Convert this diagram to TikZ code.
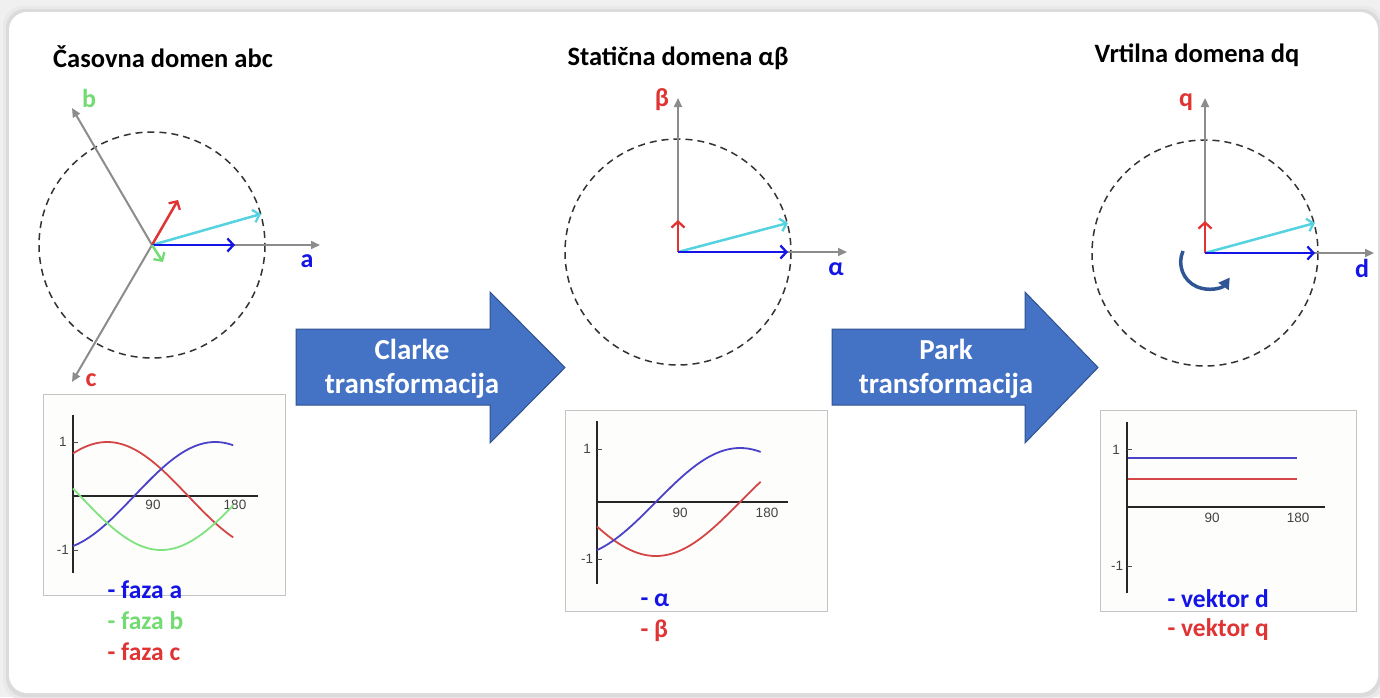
\documentclass[tikz,border=0pt]{standalone}
\usepackage{fontspec}
\setmainfont{Carlito}
\newfontfamily\tickfont{Liberation Sans}
\usetikzlibrary{arrows.meta,calc}
\definecolor{bggray}{HTML}{E6E6E6}
\definecolor{axgray}{HTML}{8C8C8C}
\definecolor{dashgray}{HTML}{333333}
\definecolor{vblue}{HTML}{1414E6}
\definecolor{vred}{HTML}{E03333}
\definecolor{vcyan}{HTML}{55D2E0}
\definecolor{vgreen}{HTML}{72DC72}
\definecolor{cblue}{HTML}{4B42C8}
\definecolor{cred}{HTML}{D44646}
\definecolor{cgreen}{HTML}{7FE37F}
\definecolor{blockblue}{HTML}{4472C4}
\definecolor{blockedge}{HTML}{2F528F}
\definecolor{rotblue}{HTML}{2F5597}
\definecolor{boxedge}{HTML}{C4C4C4}
\definecolor{boxfill}{HTML}{FDFDFC}
\definecolor{ticktext}{HTML}{444444}
\begin{document}
\begin{tikzpicture}[x=1pt,y=-1pt,
  axis/.style={draw=axgray, line width=2pt, -{Triangle[length=9pt,width=8pt]}},
  vec/.style={line width=2.5pt, -{Straight Barb[length=6pt,width=13pt,line width=2.3pt]}},
  dcircle/.style={draw=dashgray, line width=1.5pt, dash pattern=on 7pt off 5pt},
  title/.style={font=\fontsize{26.5}{30}\selectfont\bfseries, text=black},
  lab/.style={font=\fontsize{26}{30}\selectfont\bfseries},
  legend/.style={font=\fontsize{25.5}{30}\selectfont\bfseries, anchor=west},
  blocktext/.style={font=\fontsize{29}{34}\selectfont\bfseries, text=white, align=center},
  gbox/.style={draw=boxedge, fill=boxfill, line width=1pt},
  gaxis/.style={draw=black!85, line width=2pt},
  tick/.style={font=\tickfont\fontsize{13.5}{15}\selectfont, text=ticktext},
  curve/.style={line width=1.8pt},
  block/.style={fill=blockblue, draw=blockedge, line width=1pt}
]
\useasboundingbox (0,0) rectangle (1380,697);
% background and panel
\fill[bggray!60] (0,0) rectangle (1380,697);
\fill[bggray!90, rounded corners=20pt] (3,6) rectangle (1384,700);
\fill[black!14, rounded corners=19pt] (6,9) rectangle (1381,697);
\fill[white, rounded corners=18pt] (9,12) rectangle (1378,693);

% ===== Panel 1: abc =====
\node[title] (t1) at (163,57) {Časovna domen abc};
\coordinate (O1) at (152,245);
\draw[dcircle] (O1) circle[radius=113];
\coordinate (A1) at (320,245);
\coordinate (B1) at (72,108);
\coordinate (C1) at (72,382);
\draw[axis] (O1) -- (A1);
\draw[axis] (O1) -- (B1);
\draw[axis] (O1) -- (C1);
\coordinate (r1) at (178,200);
\coordinate (cy1) at (261,214);
\coordinate (bl1) at (235,245);
\coordinate (g1) at (163,262);
\draw[vec, vcyan] (O1) -- (cy1);
\draw[vec, vred] (O1) -- (r1);
\draw[vec, vblue] (O1) -- (bl1);
\draw[vec, vgreen] (O1) -- (g1);
\node[lab, text=vblue] (la) at (307,261) {a};
\node[lab, text=vgreen] (lb) at (89,98) {b};
\node[lab, text=vred] (lc) at (91,380) {c};

% graph 1
\draw[gbox] (43,394) rectangle (285,595);
\coordinate (g1o) at (73,496);
\coordinate (g1t) at (73,415);
\coordinate (g1b) at (73,573);
\coordinate (g1r) at (258,496);
\draw[gaxis] (g1t) -- (g1b);
\draw[gaxis] (g1o) -- (g1r);
\draw[line width=1pt, black!70] (73,442) -- (78,442) (73,550) -- (78,550);
\node[tick] (g1one) at (63,442) {1};
\node[tick] (g1mone) at (63,550) {-1};
\node[tick] (g1n90) at (153,505) {90};
\node[tick] (g1n180) at (235,505) {180};
\draw[curve, cred] plot[domain=0:178, samples=60] ({73+0.9*\x}, {496-54*sin(\x+52)});
\draw[curve, cblue] plot[domain=0:178, samples=60] ({73+0.9*\x}, {496-54*sin(\x-68)});
\draw[curve, cgreen] plot[domain=0:178, samples=60] ({73+0.9*\x}, {496-54*sin(\x-188)});
\node[legend, text=vblue] (lg1a) at (104,590) {- faza a};
\node[legend, text=vgreen] (lg1b) at (104,621) {- faza b};
\node[legend, text=vred] (lg1c) at (104,652) {- faza c};

% ===== Clarke arrow =====
\fill[block] (296,329) -- (490,329) -- (490,292) -- (565,367.5) -- (490,443) -- (490,405) -- (296,405) -- cycle;
\node[blocktext] (clarke) at (412,369) {Clarke\\transformacija};

% ===== Panel 2: alpha beta =====
\node[title] (t2) at (678,58) {Statična domena αβ};
\coordinate (O2) at (678,252);
\draw[dcircle] (O2) circle[radius=113];
\coordinate (A2) at (847,252);
\coordinate (B2) at (678,98);
\draw[axis] (O2) -- (A2);
\draw[axis] (O2) -- (B2);
\coordinate (r2) at (678,220);
\coordinate (cy2) at (788,223);
\coordinate (bl2) at (788,252);
\draw[vec, vcyan] (O2) -- (cy2);
\draw[vec, vred] (O2) -- (r2);
\draw[vec, vblue] (O2) -- (bl2);
\node[lab, text=vred] (lbeta) at (662,100) {β};
\node[lab, text=vblue] (lalpha) at (836,269) {α};

% graph 2
\draw[gbox] (565,410) rectangle (827,611);
\coordinate (g2o) at (597,502);
\coordinate (g2t) at (597,421);
\coordinate (g2b) at (597,584);
\coordinate (g2r) at (788,502);
\draw[gaxis] (g2t) -- (g2b);
\draw[gaxis] (g2o) -- (g2r);
\draw[line width=1pt, black!70] (597,449) -- (602,449) (597,559) -- (602,559);
\node[tick] (g2one) at (587,449) {1};
\node[tick] (g2mone) at (587,559) {-1};
\node[tick] (g2n90) at (680,513) {90};
\node[tick] (g2n180) at (767,513) {180};
\draw[curve, cred] plot[domain=0:175, samples=60] ({597+0.935*\x}, {502-54*sin(\x-153)});
\draw[curve, cblue] plot[domain=0:175, samples=60] ({597+0.935*\x}, {502-54*sin(\x-63)});
\node[legend, text=vblue] (lg2a) at (637,600) {- α};
\node[legend, text=vred] (lg2b) at (637,631) {- β};

% ===== Park arrow =====
\fill[block] (832,329) -- (1025,329) -- (1025,292) -- (1098,367.5) -- (1025,443) -- (1025,405) -- (832,405) -- cycle;
\node[blocktext] (park) at (946,369) {Park\\transformacija};

% ===== Panel 3: dq =====
\node[title] (t3) at (1197,55) {Vrtilna domena dq};
\coordinate (O3) at (1205,253);
\draw[dcircle] (O3) circle[radius=113];
\coordinate (A3) at (1374,253);
\coordinate (B3) at (1205,98);
\draw[axis] (O3) -- (A3);
\draw[axis] (O3) -- (B3);
\coordinate (r3) at (1205,221);
\coordinate (cy3) at (1315,223);
\coordinate (bl3) at (1315,253);
\draw[vec, vcyan] (O3) -- (cy3);
\draw[vec, vred] (O3) -- (r3);
\draw[vec, vblue] (O3) -- (bl3);
\node[lab, text=vred] (lq) at (1186,102) {q};
\node[lab, text=vblue] (ld) at (1362,268) {d};
\coordinate (R0) at (1183,251);
\draw[rotblue, line width=3.5pt, -{Triangle[length=11pt,width=12pt]}] (R0) arc[start angle=204, end angle=35, radius=27];

% graph 3
\draw[gbox] (1100,410) rectangle (1356,611);
\coordinate (g3o) at (1127,507);
\coordinate (g3t) at (1127,422);
\coordinate (g3b) at (1127,593);
\coordinate (g3r) at (1325,507);
\draw[gaxis] (g3t) -- (g3b);
\draw[gaxis] (g3o) -- (g3r);
\draw[line width=1pt, black!70] (1127,449) -- (1132,449) (1127,566) -- (1132,566);
\node[tick] (g3one) at (1116,450) {1};
\node[tick] (g3mone) at (1117,566) {-1};
\node[tick] (g3n90) at (1212,518) {90};
\node[tick] (g3n180) at (1298,518) {180};
\coordinate (d0) at (1128,458);
\coordinate (d1) at (1297,458);
\coordinate (q0) at (1128,479);
\coordinate (q1) at (1297,479);
\draw[curve, cblue] (d0) -- (d1);
\draw[curve, cred] (q0) -- (q1);
\node[legend, text=vblue] (lg3a) at (1164,599) {- vektor d};
\node[legend, text=vred] (lg3b) at (1164,630) {- vektor q};
\end{tikzpicture}
\end{document}
